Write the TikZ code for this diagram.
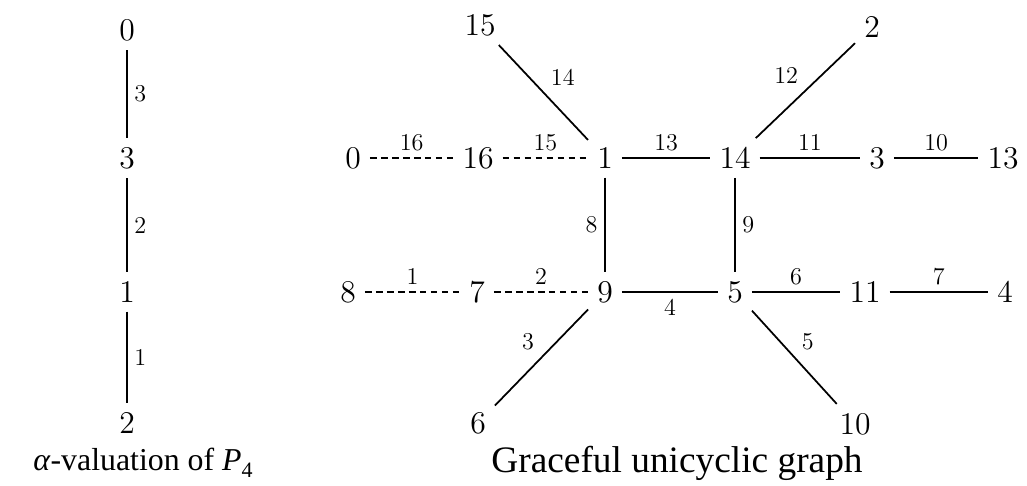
\documentclass[tikz,border=0pt]{standalone}
\usepackage{amsmath}
\usepackage{fontspec}
\newfontfamily\capfont{Liberation Serif}
\usetikzlibrary{positioning}

\begin{document}
\begin{tikzpicture}[
		x=0.16mm, y=-0.16mm,
		% Style for the vertices (the labels of the vertices)
		vtx/.style={font=\Large, inner sep=4pt},
		% Style for the edges and their labels
		edge/.style={line width=0.8pt},
		faint edge/.style={line width=0.6pt, densely dashed},
		lbl/.style={font=\fontsize{11}{13}\selectfont, inner sep=3pt},
		% Captions
		caption/.style={font=\capfont\fontsize{17}{20}\selectfont, anchor=center}
		]
	\useasboundingbox (0,0) rectangle (1027,485);

	% ==============================================================================
	% LEFT: alpha-valuation of P_4
	% ==============================================================================
	\node[vtx] (p0) at (127, 30) {0};
	\node[vtx] (p3) at (127, 158) {3};
	\node[vtx] (p1) at (127, 292) {1};
	\node[vtx] (p2) at (127, 423) {2};

	\draw[edge] (p0) -- node[lbl, right] {3} (p3);
	\draw[edge] (p3) -- node[lbl, right] {2} (p1);
	\draw[edge] (p1) -- node[lbl, right] {1} (p2);

	\node[caption, font=\capfont\fontsize{14.5}{17}\selectfont] (capP) at (143, 463)
		{\textit{α}-valuation of \textit{P}\raisebox{-0.45ex}{\fontsize{10}{10}\selectfont 4}};

	% ==============================================================================
	% RIGHT: graceful unicyclic graph
	% ==============================================================================
	% Top row
	\node[vtx] (g15) at (480, 25) {15};
	\node[vtx] (g2) at (872, 27) {2};
	% Middle row
	\node[vtx] (g0) at (353, 158) {0};
	\node[vtx] (g16) at (478, 158) {16};
	\node[vtx] (g1) at (605, 158) {1};
	\node[vtx] (g14) at (735, 158) {14};
	\node[vtx] (g3) at (877, 158) {3};
	\node[vtx] (g13) at (1003, 158) {13};
	% Lower row
	\node[vtx] (g8) at (348, 292) {8};
	\node[vtx] (g7) at (477, 292) {7};
	\node[vtx] (g9) at (605, 292) {9};
	\node[vtx] (g5) at (735, 292) {5};
	\node[vtx] (g11) at (865, 292) {11};
	\node[vtx] (g4) at (1005, 292) {4};
	% Bottom row
	\node[vtx] (g6) at (478, 423) {6};
	\node[vtx] (g10) at (855, 424) {10};

	% Edges
	\draw[faint edge] (g0) -- node[lbl, above] {16} (g16);
	\draw[faint edge] (g16) -- node[lbl, above] {15} (g1);
	\draw[edge] (g15) -- node[lbl, above right] {14} (g1);
	\draw[edge] (g1) -- node[lbl, above] {13} (g14);
	\draw[edge] (g14) -- node[lbl, above left] {12} (g2);
	\draw[edge] (g14) -- node[lbl, above] {11} (g3);
	\draw[edge] (g3) -- node[lbl, above] {10} (g13);
	\draw[edge] (g1) -- node[lbl, left] {8} (g9);
	\draw[edge] (g14) -- node[lbl, right] {9} (g5);
	\draw[faint edge] (g8) -- node[lbl, above] {1} (g7);
	\draw[faint edge] (g7) -- node[lbl, above] {2} (g9);
	\draw[edge] (g9) -- node[lbl, below] {4} (g5);
	\draw[edge] (g5) -- node[lbl, above] {6} (g11);
	\draw[edge] (g11) -- node[lbl, above] {7} (g4);
	\draw[edge] (g9) -- node[lbl, above left] {3} (g6);
	\draw[edge] (g5) -- node[lbl, above right] {5} (g10);

	\node[caption] (capG) at (677, 463) {Graceful unicyclic graph};
\end{tikzpicture}
\end{document}
